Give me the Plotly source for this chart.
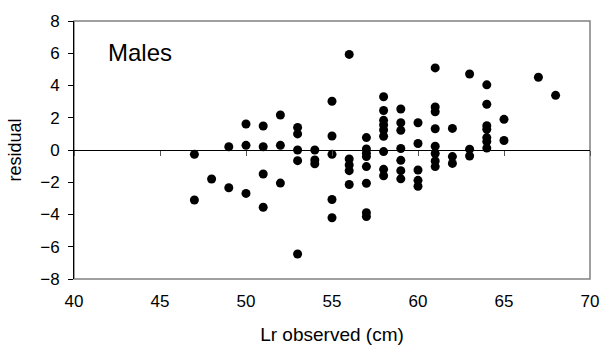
import plotly.graph_objects as go

# Lr observed (cm) and residual values
lr_observed = (
    [47, 47, 48, 49, 49, 50, 50, 50, 51, 51, 51, 51, 52, 52, 52]
    + [53, 53, 53, 53, 53, 54, 54, 54, 55, 55, 55, 55, 55]
    + [56, 56, 56, 56, 56, 57, 57, 57, 57, 57, 57, 57, 57]
    + [58, 58, 58, 58, 58, 58, 58, 58, 58]
    + [59, 59, 59, 59, 59, 59, 59, 60, 60, 60, 60, 60]
    + [61, 61, 61, 61, 61, 61, 61, 61, 62, 62, 62, 63, 63, 63]
    + [64, 64, 64, 64, 64, 64, 64, 65, 65, 67, 68]
)
residual = (
    [-0.27, -3.1, -1.8, 0.2, -2.34, 1.61, 0.29, -2.69, 1.49, 0.2, -1.49, -3.55, 2.17, 0.29, -2.05]
    + [1.4, 1.0, 0.0, -0.66, -6.45, 0.0, -0.62, -0.85, 3.02, 0.87, -0.27, -3.07, -4.2]
    + [5.93, -0.56, -0.93, -1.28, -2.14, 0.77, 0.06, -0.2, -0.41, -1.03, -2.06, -3.89, -4.13]
    + [3.3, 2.45, 1.84, 1.55, 1.24, 0.85, -0.1, -1.2, -1.6]
    + [2.54, 1.69, 1.22, 0.09, -0.64, -1.28, -1.79, 1.69, 0.4, -1.24, -1.88, -2.25]
    + [5.09, 2.67, 2.37, 1.32, 0.23, -0.22, -0.68, -1.03, 1.34, -0.41, -0.83, 4.71, 0.05, -0.37]
    + [4.04, 2.84, 1.51, 1.28, 0.77, 0.52, 0.12, 1.9, 0.59, 4.51, 3.39]
)

x_ticks = [40, 45, 50, 55, 60, 65, 70]
y_ticks = [-8, -6, -4, -2, 0, 2, 4, 6, 8]
FONT = "Liberation Sans, Arial, sans-serif"

fig = go.Figure()
fig.add_trace(go.Scatter(
    x=lr_observed, y=residual, mode="markers",
    marker=dict(color="black", size=9, line=dict(width=0)),
    showlegend=False, hoverinfo="skip",
))
# invisible helper trace so the zero-line axis (x2) is drawn
fig.add_trace(go.Scatter(x=[x_ticks[0]], y=[0], xaxis="x2", mode="markers",
                         marker=dict(opacity=0), showlegend=False, hoverinfo="skip"))

fig.update_layout(
    template="none",
    width=602, height=351,
    margin=dict(l=74, r=12, t=21, b=72, autoexpand=False),
    paper_bgcolor="white", plot_bgcolor="white",
    font=dict(family=FONT, color="black", size=17),
    xaxis=dict(
        range=[40, 70], tickvals=x_ticks, ticks="", showgrid=False, zeroline=False,
        showline=False, tickfont=dict(size=17), automargin=False, ticklabelstandoff=10,
        title=dict(text="Lr observed (cm)", font=dict(size=19), standoff=17),
    ),
    xaxis2=dict(
        range=[40, 70], matches="x", overlaying="x", anchor="free", position=0.5,
        tickvals=x_ticks, ticks="outside", ticklen=5, tickcolor="#555555", tickwidth=1,
        showticklabels=False, showgrid=False, zeroline=False, automargin=False,
        showline=True, linecolor="black", linewidth=1,
    ),
    yaxis=dict(
        range=[-8, 8], tickvals=y_ticks, ticks="outside", ticklen=5, tickcolor="black",
        showgrid=False, zeroline=False, showline=True, linecolor="black", linewidth=1,
        tickfont=dict(size=17), automargin=False, ticklabelstandoff=5,
        title=dict(text="residual", font=dict(size=18), standoff=13),
    ),
    shapes=[dict(type="rect", xref="paper", yref="paper", x0=0, y0=0, x1=1, y1=1,
                 line=dict(color="#808080", width=1.5), layer="below")],
    annotations=[dict(text="Males", xref="paper", yref="paper", x=0.062, y=0.876,
                      xanchor="left", yanchor="middle", showarrow=False,
                      font=dict(size=24, family=FONT, color="black"))],
)

fig.write_html("out.html")
